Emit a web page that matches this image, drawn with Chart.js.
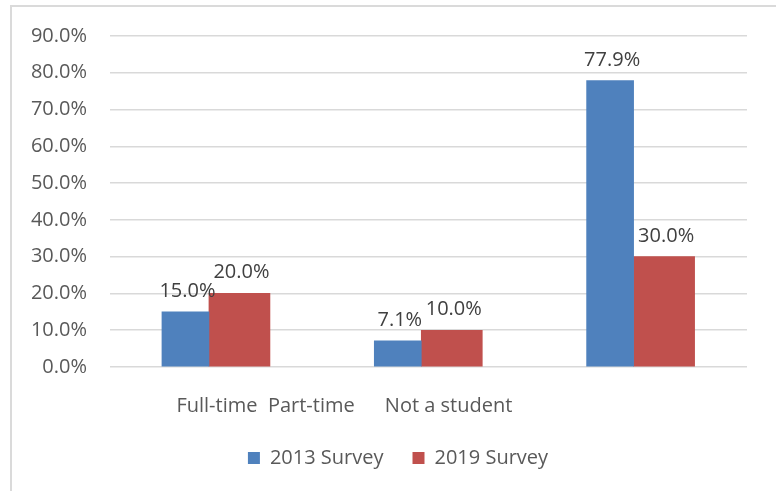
<!DOCTYPE html>
<html>
<head>
<meta charset="utf-8">
<script src="https://cdn.jsdelivr.net/npm/chart.js@4.4.0/dist/chart.umd.min.js"></script>
<style>
  html, body { margin: 0; padding: 0; background: #fff; overflow: hidden; }
  #frame {
    position: absolute; left: 10px; top: 5px; width: 900px; height: 600px;
    border-left: 2px solid #dadada; border-top: 2px solid #dadada;
  }
  #wrap { position: absolute; left: 0; top: 0; width: 776px; height: 491px; }
</style>
</head>
<body>
<div id="frame"></div>
<div id="wrap"><canvas id="surveyChart"></canvas></div>
<script>
const categories = ['Full-time', 'Part-time', 'Not a student']
const survey2013 = [15.0, 7.1, 77.9]
const survey2019 = [20.0, 10.0, 30.0]
const seriesNames = ['2013 Survey', '2019 Survey']

// where each category name sits, in px from its group
const labelShift = [8, -110, -185]

const font = "'Open Sans', 'DejaVu Sans', sans-serif"

function toPoints(values) {
  return values.map((v, i) => ({ x: i, y: v }))
}

// value text above every bar
const barLabels = {
  id: 'barLabels',
  afterDatasetsDraw(chart) {
    const ctx = chart.ctx
    ctx.save()
    ctx.font = '20px ' + font
    ctx.fillStyle = '#404040'
    ctx.textAlign = 'center'
    ctx.textBaseline = 'alphabetic'
    chart.data.datasets.forEach((ds, i) => {
      chart.getDatasetMeta(i).data.forEach((bar, j) => {
        ctx.fillText(ds.data[j].y.toFixed(1) + '%', bar.x + 2, bar.y - 15)
      })
    })
    ctx.restore()
  }
}

// category names under the groups
const categoryNames = {
  id: 'categoryNames',
  afterDraw(chart) {
    const ctx = chart.ctx
    const xs = chart.scales.x
    ctx.save()
    ctx.font = '20px ' + font
    ctx.fillStyle = '#595959'
    ctx.textAlign = 'center'
    ctx.textBaseline = 'middle'
    categories.forEach((name, i) => {
      ctx.fillText(name, xs.getPixelForValue(i) + labelShift[i], chart.chartArea.bottom + 39)
    })
    ctx.restore()
  }
}

function createSurveyChart() {
  const ctx = document.getElementById('surveyChart')

  new Chart(ctx, {
    type: 'bar',
    data: {
      datasets: [{
        label: seriesNames[0],
        data: toPoints(survey2013),
        backgroundColor: '#4F81BD',
        barThickness: 47
      }, {
        label: seriesNames[1],
        data: toPoints(survey2019),
        backgroundColor: '#C0504D',
        barThickness: 61
      }]
    },
    options: {
      responsive: true,
      maintainAspectRatio: false,
      animation: false,
      layout: {
        padding: { left: 20, right: 0, top: 36, bottom: 13 }
      },
      scales: {
        x: {
          type: 'linear',
          offset: false,
          min: -0.466,
          max: 2.534,
          grid: { display: false },
          border: { display: false },
          ticks: { display: false },
          afterFit(scale) { scale.height = 52 }
        },
        y: {
          min: 0,
          max: 90,
          grid: { color: '#d9d9d9', lineWidth: 1.5, drawTicks: false },
          border: { display: false },
          ticks: {
            stepSize: 10,
            padding: 23,
            color: '#595959',
            font: { family: font, size: 20 },
            callback: (v) => v.toFixed(1) + '%'
          },
          afterFit(scale) { scale.width = 90 }
        },
        // empty strip on the right of the plot
        side: {
          type: 'linear',
          position: 'right',
          grid: { display: false },
          border: { display: false },
          ticks: { display: false },
          afterFit(scale) { scale.width = 29 }
        }
      },
      plugins: {
        tooltip: { enabled: false },
        legend: {
          position: 'bottom',
          labels: {
            boxWidth: 12,
            boxHeight: 12,
            padding: 29,
            color: '#595959',
            font: { family: font, size: 20 }
          }
        }
      }
    },
    plugins: [barLabels, categoryNames]
  })
}

document.addEventListener('DOMContentLoaded', () => createSurveyChart())
</script>
</body>
</html>
